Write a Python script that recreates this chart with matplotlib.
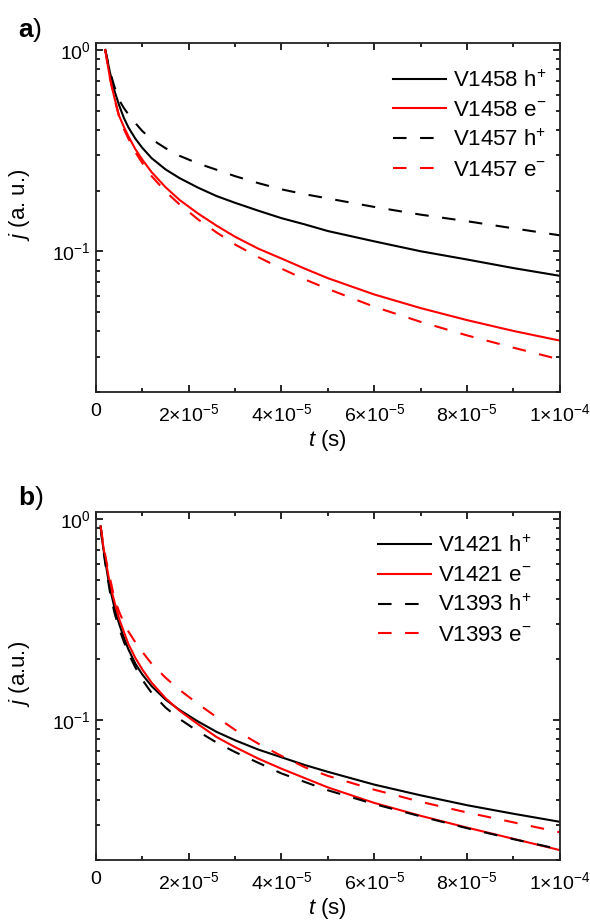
import matplotlib
matplotlib.use("Agg")
import math
import matplotlib.pyplot as plt
from matplotlib.ticker import MultipleLocator, FuncFormatter, LogLocator, NullFormatter

plt.rcParams['font.family'] = ['Liberation Sans', 'DejaVu Sans']
plt.rcParams['mathtext.fontset'] = 'custom'
plt.rcParams['mathtext.rm'] = 'Liberation Sans'
plt.rcParams['mathtext.it'] = 'Liberation Sans:italic'
plt.rcParams['mathtext.bf'] = 'Liberation Sans:bold'

# --- panel a data (t in units of 1e-5 s, j in a.u.) ---
t_a = [0.2, 0.25, 0.3, 0.35, 0.4, 0.5, 0.6, 0.7, 0.85, 1.0, 1.2, 1.5, 1.8, 2.2, 2.6,
       3.0, 3.5, 4.0, 4.5, 5, 6, 7, 8, 9, 10]
v1458_h = [1.0, 0.88, 0.775, 0.695, 0.625, 0.53, 0.46, 0.412, 0.362, 0.326, 0.29,
           0.255, 0.231, 0.207, 0.188, 0.174, 0.159, 0.146, 0.136, 0.126, 0.112,
           0.100, 0.091, 0.0825, 0.0755]
v1458_e = [1.0, 0.85, 0.73, 0.645, 0.575, 0.47, 0.415, 0.372, 0.321, 0.285, 0.247,
           0.208, 0.18, 0.154, 0.134, 0.118, 0.103, 0.092, 0.082, 0.0735, 0.061,
           0.0522, 0.0455, 0.0402, 0.036]
v1457_h = [1.0, 0.885, 0.79, 0.715, 0.655, 0.563, 0.515, 0.478, 0.433, 0.395, 0.36,
           0.325, 0.298, 0.273, 0.254, 0.236, 0.218, 0.203, 0.192, 0.183, 0.166,
           0.152, 0.141, 0.130, 0.120]
v1457_e = [1.0, 0.85, 0.725, 0.64, 0.57, 0.463, 0.405, 0.362, 0.31, 0.274, 0.236,
           0.198, 0.171, 0.144, 0.124, 0.108, 0.0935, 0.082, 0.0725, 0.065, 0.053,
           0.0446, 0.0382, 0.0332, 0.029]

# --- panel b data ---
t_b = [0.1, 0.13, 0.16, 0.2, 0.25, 0.3, 0.4, 0.5, 0.6, 0.7, 0.85, 1.0, 1.2, 1.5, 1.8,
       2.2, 2.6, 3.0, 3.5, 4.0, 4.5, 5, 6, 7, 8, 9, 10]
v1421_h = [0.92, 0.80, 0.71, 0.62, 0.525, 0.455, 0.36, 0.30, 0.257, 0.224, 0.19,
           0.168, 0.147, 0.126, 0.112, 0.098, 0.087, 0.079, 0.071, 0.065, 0.0595,
           0.055, 0.0475, 0.042, 0.0375, 0.034, 0.031]
v1421_e = [0.92, 0.81, 0.725, 0.64, 0.55, 0.475, 0.385, 0.318, 0.275, 0.238, 0.203,
           0.178, 0.153, 0.128, 0.111, 0.095, 0.082, 0.073, 0.064, 0.057, 0.0512,
           0.046, 0.0385, 0.0332, 0.029, 0.0255, 0.0224]
v1393_h = [0.92, 0.79, 0.70, 0.60, 0.51, 0.435, 0.34, 0.285, 0.245, 0.214, 0.182,
           0.158, 0.136, 0.115, 0.101, 0.0875, 0.077, 0.069, 0.061, 0.054, 0.049,
           0.0445, 0.038, 0.033, 0.0288, 0.0254, 0.0226]
v1393_e = [0.92, 0.83, 0.75, 0.66, 0.575, 0.51, 0.40, 0.345, 0.305, 0.275, 0.243,
           0.218, 0.19, 0.162, 0.141, 0.12, 0.103, 0.089, 0.076, 0.066, 0.058,
           0.0525, 0.0448, 0.039, 0.0345, 0.0308, 0.0275]

panels = [
    dict(t=t_a, series=[v1458_h, v1458_e, v1457_h, v1457_e],
         names=['V1458 h$^{+}$', 'V1458 e$^{-}$', 'V1457 h$^{+}$', 'V1457 e$^{-}$'],
         ylabel='$j$ (a. u.)', tag='a', rect=[0.1627, 0.5758, 0.786, 0.3777],
         ytop=1.083, leg_anchor=(1.0, 0.96), tag_y=0.96, xpad=2),
    dict(t=t_b, series=[v1421_h, v1421_e, v1393_h, v1393_e],
         names=['V1421 h$^{+}$', 'V1421 e$^{-}$', 'V1393 h$^{+}$', 'V1393 e$^{-}$'],
         ylabel='$j$ (a.u.)', tag='b', rect=[0.1627, 0.0693, 0.786, 0.377],
         ytop=1.09, leg_anchor=(0.967, 0.97), tag_y=0.4535, xpad=2.5),
]
colors = ['black', 'red', 'black', 'red']
dashed = [False, False, True, True]


def xfmt(v, pos):
    if abs(v) < 1e-12:
        return '0'
    m = v / 1e-5
    if abs(m - 10) < 1e-6:
        return r'$1{\times}10^{-4}$'
    return r'$%d{\times}10^{-5}$' % round(m)


def yfmt(v, pos):
    e = int(round(math.log10(v)))
    return r'$10^{%d}$' % e


fig = plt.figure(figsize=(5.9, 9.24), dpi=100)

for p in panels:
    ax = fig.add_axes(p['rect'])
    ts = [v * 1e-5 for v in p['t']]
    for ys, c, d, name in zip(p['series'], colors, dashed, p['names']):
        if d:
            ax.plot(ts, ys, color=c, lw=1.5, dashes=(6.5, 6.5), label=name)
        else:
            ax.plot(ts, ys, color=c, lw=1.5, label=name)

    ax.set_yscale('log')
    ax.set_xlim(0, 1e-4)
    ax.set_ylim(0.02, p['ytop'])
    ax.xaxis.set_major_locator(MultipleLocator(2e-5))
    ax.xaxis.set_minor_locator(MultipleLocator(1e-5))
    ax.xaxis.set_major_formatter(FuncFormatter(xfmt))
    ax.yaxis.set_major_locator(LogLocator(base=10))
    ax.yaxis.set_minor_locator(LogLocator(base=10, subs=range(2, 10)))
    ax.yaxis.set_major_formatter(FuncFormatter(yfmt))
    ax.yaxis.set_minor_formatter(NullFormatter())

    ax.tick_params(which='both', direction='in', top=True, right=True,
                   width=1.2, labelsize=14)
    ax.tick_params(which='major', length=5)
    ax.tick_params(which='minor', length=3)
    ax.tick_params(axis='x', pad=8)
    for s in ax.spines.values():
        s.set_linewidth(1.3)
        s.set_color('#222222')

    ax.set_xlabel('$t$ (s)', fontsize=16, labelpad=p['xpad'])
    ax.set_ylabel(p['ylabel'], fontsize=16)
    ax.yaxis.set_label_coords(-0.138, 0.535)

    ax.legend(loc='upper right', bbox_to_anchor=p['leg_anchor'], frameon=False,
              fontsize=16, handlelength=2.4, handletextpad=0.3, labelspacing=0.38,
              borderaxespad=0.2)

    fig.text(0.03, p['tag_y'], r'$\mathbf{%s}$)' % p['tag'], fontsize=19,
             va='baseline')

fig.savefig('out.png', dpi=100)
